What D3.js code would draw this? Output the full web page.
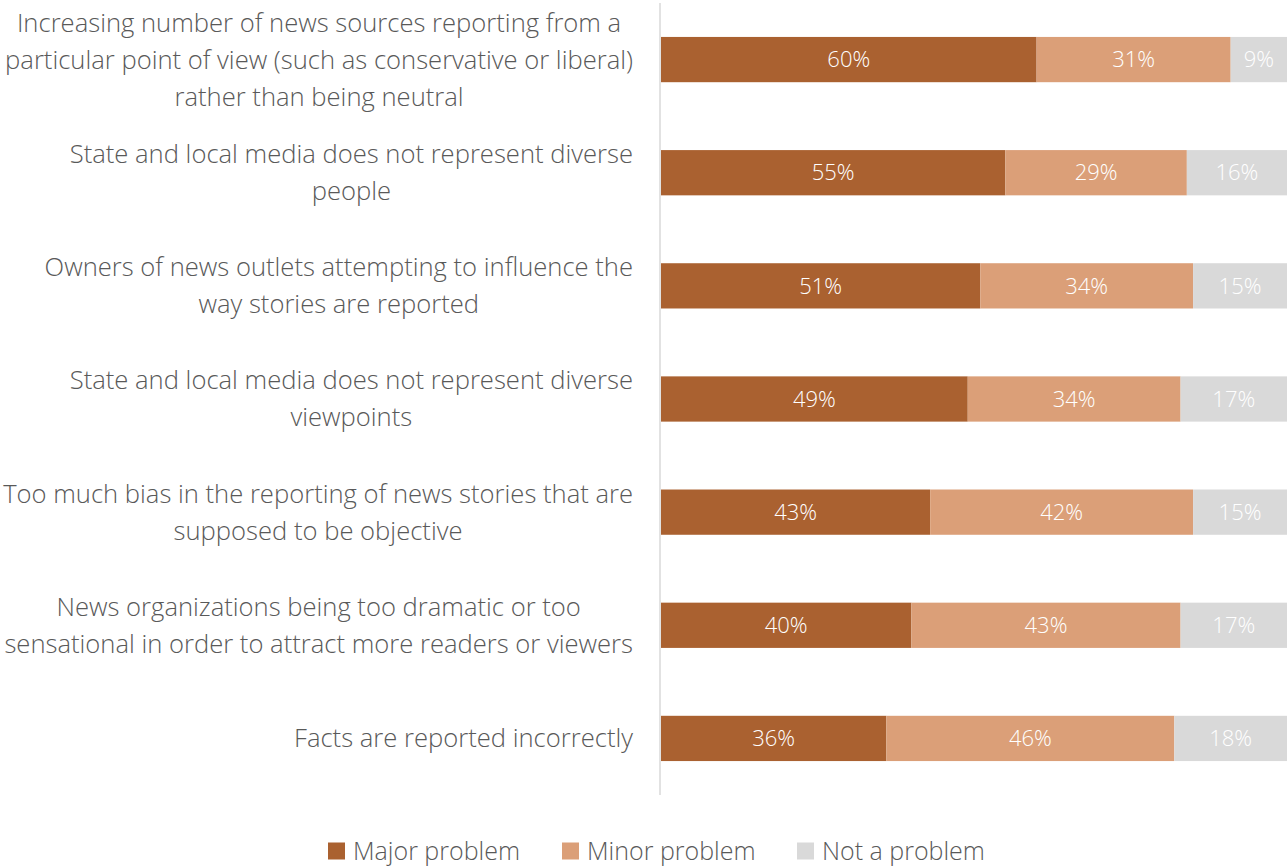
<!DOCTYPE html>
<html>
<head>
<meta charset="utf-8">
<script src="https://cdn.jsdelivr.net/npm/d3@7"></script>
<style>
  html, body { margin: 0; padding: 0; background: #ffffff; }
  svg { display: block; font-family: "Open Sans", "Segoe UI", sans-serif; font-weight: 300; }
</style>
</head>
<body>
<svg id="chart" width="1288" height="866"></svg>
<script>
// Survey items (line breaks mark where each label wraps)
const categories = [
  "Increasing number of news sources reporting from a\nparticular point of view (such as conservative or liberal)\nrather than being neutral",
  "State and local media does not represent diverse\npeople",
  "Owners of news outlets attempting to influence the\nway stories are reported",
  "State and local media does not represent diverse\nviewpoints",
  "Too much bias in the reporting of news stories that are\nsupposed to be objective",
  "News organizations being too dramatic or too\nsensational in order to attract more readers or viewers",
  "Facts are reported incorrectly"
];
const seriesNames = ["Major problem", "Minor problem", "Not a problem"];
const majorProblem = [60, 55, 51, 49, 43, 40, 36];
const minorProblem = [31, 29, 34, 34, 42, 43, 46];
const notAProblem  = [9, 16, 15, 17, 15, 17, 18];
const seriesColors = ["#AA6130", "#DB9F78", "#D9D9D9"];

const svg = d3.select("#chart");

const rows = categories.map((c, i) => ({
  category: c,
  "Major problem": majorProblem[i],
  "Minor problem": minorProblem[i],
  "Not a problem": notAProblem[i]
}));

const stacked = d3.stack().keys(seriesNames)(rows);

const x = d3.scaleLinear().domain([0, 100]).range([661, 1287]);
const y = d3.scaleBand()
  .domain(categories)
  .range([3, 795])
  .paddingInner(0.6)
  .paddingOuter(0.3);
const color = d3.scaleOrdinal().domain(seriesNames).range(seriesColors);

// bars
const layers = svg.append("g").selectAll("g")
  .data(stacked)
  .join("g")
  .attr("fill", d => color(d.key));

layers.selectAll("rect")
  .data(d => d.map(s => ({ s, key: d.key })))
  .join("rect")
  .attr("x", d => x(d.s[0]))
  .attr("y", d => y(d.s.data.category))
  .attr("width", d => x(d.s[1]) - x(d.s[0]))
  .attr("height", y.bandwidth());

// value labels
layers.selectAll("text")
  .data(d => d.map(s => ({ s, key: d.key })))
  .join("text")
  .attr("x", d => (x(d.s[0]) + x(d.s[1])) / 2)
  .attr("y", d => y(d.s.data.category) + y.bandwidth() / 2)
  .attr("dy", "0.35em")
  .attr("text-anchor", "middle")
  .attr("fill", "#ffffff")
  .attr("font-size", 22)
  .text(d => (d.s[1] - d.s[0]) + "%");

// category axis line
svg.append("line")
  .attr("x1", 660).attr("x2", 660)
  .attr("y1", y.range()[0]).attr("y2", y.range()[1])
  .attr("stroke", "#D9D9D9")
  .attr("stroke-width", 1.5);

// category labels: block right-aligned, lines centred within block
const lineH = 37;
const labelRight = 633;
const labelG = svg.append("g").attr("fill", "#595959").attr("font-size", 25.6);
categories.forEach(c => {
  const lines = c.split("\n");
  const cy = y(c) + y.bandwidth() / 2;
  const g = labelG.append("g");
  const texts = lines.map((ln, k) =>
    g.append("text")
      .attr("y", cy + (k - (lines.length - 1) / 2) * lineH)
      .attr("dy", "0.35em")
      .attr("text-anchor", "middle")
      .text(ln)
  );
  const maxW = d3.max(texts, t => t.node().getComputedTextLength());
  texts.forEach(t => t.attr("x", labelRight - maxW / 2));
});

// legend
const legendItems = [
  { name: seriesNames[0], x: 328 },
  { name: seriesNames[1], x: 562 },
  { name: seriesNames[2], x: 797 }
];
const legend = svg.append("g").selectAll("g")
  .data(legendItems)
  .join("g")
  .attr("transform", d => `translate(${d.x},851)`);
legend.append("rect")
  .attr("x", 0).attr("y", -8.5)
  .attr("width", 17).attr("height", 17)
  .attr("fill", d => color(d.name));
legend.append("text")
  .attr("x", 25)
  .attr("dy", "0.35em")
  .attr("fill", "#595959")
  .attr("font-size", 25)
  .text(d => d.name);
</script>
</body>
</html>
